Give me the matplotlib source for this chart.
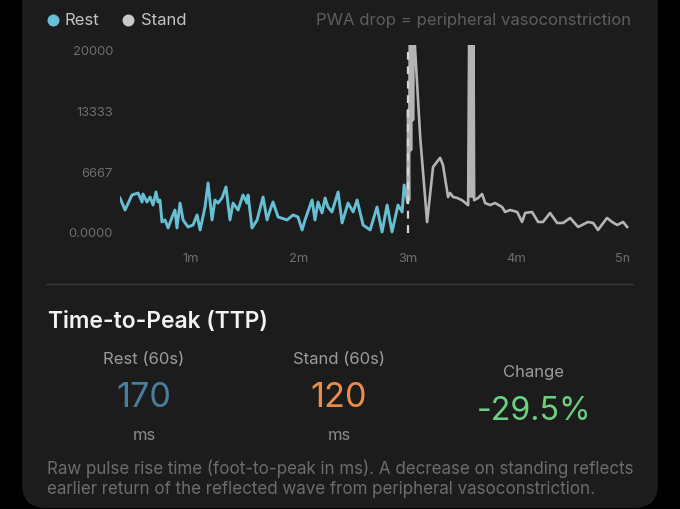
import matplotlib
matplotlib.use("Agg")
import matplotlib.pyplot as plt
from matplotlib.patches import FancyBboxPatch
from matplotlib.transforms import Bbox

plt.rcParams['font.family'] = ['Inter', 'DejaVu Sans']

# ---------------- data ----------------
rest_t = [21.0, 23.8, 27.6, 31.0, 33.2, 33.7, 35.9, 37.6, 39.3, 40.9, 42.0, 43.1, 44.2, 45.9,
          47.6, 49.8, 51.4, 52.5, 54.2, 55.9, 58.6, 61.4, 63.6, 65.3, 68.0, 69.7, 71.9, 73.5,
          75.2, 77.4, 79.6, 81.8, 83.5, 86.3, 89.0, 91.2, 91.8, 94.0, 96.8, 100.1, 102.3,
          104.0, 105.6, 108.4, 113.4, 116.7, 119.4, 121.7, 123.3, 127.2, 128.8, 130.5, 132.7,
          134.4, 136.0, 138.2, 141.6, 143.8, 147.1, 149.9, 152.1, 155.4, 159.3, 163.1, 165.9,
          168.7, 171.4, 174.7, 177.0, 178.1, 180.0]
rest_v = [3840, 2520, 4170, 4390, 3400, 4280, 3400, 3950, 3070, 4500, 3400, 3620, 1210, 1430,
          550, 1760, 2520, 550, 3290, 1430, 660, 880, 1980, 330, 2850, 5490, 1430, 3620,
          3290, 3840, 5050, 1430, 3290, 2520, 4170, 3290, 4170, 550, 1430, 3950, 1430,
          2520, 3400, 1760, 1430, 1980, 1760, 330, 1430, 3620, 1430, 3400, 2200,
          3840, 2850, 2310, 4500, 1100, 3290, 2310, 3620, 880, 330, 2850, 110,
          3070, 110, 3070, 2310, 5270, 3400]

stand_t = [180.0, 180.3, 180.8, 181.4, 181.9, 182.5, 183.0, 183.6, 184.1, 187.0, 190.8, 194.1,
           198.0, 199.6, 202.4, 203.5, 205.2, 207.4, 210.1, 213.5, 214.3, 214.8, 215.3, 215.8,
           216.3, 216.8, 219.0, 221.2, 222.9, 225.6, 228.4, 232.3, 233.9, 236.7, 240.6, 243.3,
           245.0, 248.8, 252.2, 254.9, 258.8, 262.7, 266.0, 269.9, 274.3, 279.8, 282.6, 285.3,
           290.3, 293.1, 295.9, 299.2, 301.4]
stand_v = [3400, 13500, 3600, 30000, 9100, 30000, 12400, 30000, 20400, 10500, 1200, 7250,
           8250, 7450, 3950, 4400, 3950, 3850, 3600, 3050, 30000, 4000, 30000, 4000,
           30000, 3600, 3840, 4280, 3290, 3070, 3290, 2850, 2310, 2520, 2310, 1210,
           2200, 2310, 1210, 1210, 2200, 1100, 1100, 1650, 660, 1210, 1100, 330,
           1650, 1210, 880, 1210, 660]

transition_s = 180
series_names = ['Rest', 'Stand']
y_ticks = [0, 6667, 13333, 20000]
y_tick_labels = ['0.0000', '6667', '13333', '20000']
x_ticks = [60, 120, 180, 240, 300]
x_tick_labels = ['1m', '2m', '3m', '4m', '5m']

metric_title = 'Time-to-Peak (TTP)'
rest_label, stand_label, change_label = 'Rest (60s)', 'Stand (60s)', 'Change'
ttp_rest_ms = 170
ttp_stand_ms = 120
ttp_change_pct = -29.5
unit = 'ms'
header_note = 'PWA drop = peripheral vasoconstriction'
footnote_lines = ['Raw pulse rise time (foot-to-peak in ms). A decrease on standing reflects',
                  'earlier return of the reflected wave from peripheral vasoconstriction.']

# ---------------- style ----------------
REST_C = '#67bfd3'
STAND_C = '#b4b4b4'
CARD_C = '#1c1c1c'
W, H = 680, 509

fig = plt.figure(figsize=(W / 100, H / 100), dpi=100, facecolor='black')

bg = fig.add_axes([0, 0, 1, 1])
bg.set_xlim(0, W)
bg.set_ylim(H, 0)
bg.axis('off')
bg.set_zorder(0)
bg.add_patch(FancyBboxPatch((22, -60), 636, 568,
                            boxstyle='round,pad=0,rounding_size=24',
                            fc=CARD_C, ec='none'))

# legend
bg.plot([53], [20], 'o', ms=8.6, color=REST_C, mec='none')
bg.text(65, 20, series_names[0], color='#c4c4c4', fontsize=12, va='center', ha='left')
bg.plot([128], [20], 'o', ms=8.6, color='#c8c8c8', mec='none')
bg.text(141, 20, series_names[1], color='#c4c4c4', fontsize=12, va='center', ha='left')
hdr = bg.text(631, 20, header_note, color='#5e5e5e', fontsize=12, va='center', ha='right')

# chart axes
ax = fig.add_axes([120 / W, (H - 242) / H, 512 / W, 197 / H])
ax.set_zorder(2)
ax.patch.set_alpha(0)
for s in ax.spines.values():
    s.set_visible(False)
ax.set_xlim(21.0, 304.1)
ax.set_ylim(-990, 20640)

ax.plot(rest_t, rest_v, color=REST_C, lw=2.1, solid_joinstyle='round', zorder=3)
ax.plot(stand_t, stand_v, color=STAND_C, lw=1.9, solid_joinstyle='round', zorder=3)
ax.vlines(transition_s, y_ticks[0], y_ticks[-1], colors='#d6d6d6', lw=1.6,
          linestyles=(0, (3.5, 3)), zorder=4)

ax.set_yticks(y_ticks, y_tick_labels)
ax.set_xticks(x_ticks, x_tick_labels)
ax.tick_params(axis='both', length=0, colors='#6e6e6e', labelsize=9.3)
ax.tick_params(axis='y', pad=5)
ax.tick_params(axis='x', pad=8)

# clip x tick labels at the right edge of the chart area
clipbox = Bbox([[0, 0], [629, H]])
for lbl in ax.get_xticklabels():
    lbl.set_clip_on(True)
    lbl.set_clip_box(clipbox)

# separator
bg.plot([46, 633], [284, 284], color='#3a3a3a', lw=1)

# metrics panel
ttl = bg.text(48, 322, metric_title, color='#f2f2f2', fontsize=15.5, fontweight='semibold',
              va='center', ha='left')
bg.text(144, 360, rest_label, color='#9c9c9c', fontsize=12, va='center', ha='center')
n1 = bg.text(144, 398, f'{ttp_rest_ms}', color='#4a7e9e', fontsize=25, fontweight='normal',
             va='center', ha='center')
bg.text(144, 435, unit, color='#8a8a8a', fontsize=12, va='center', ha='center')

bg.text(339, 360, stand_label, color='#9c9c9c', fontsize=12, va='center', ha='center')
n2 = bg.text(339, 398, f'{ttp_stand_ms}', color='#ec8c4c', fontsize=25, fontweight='normal',
             va='center', ha='center')
bg.text(339, 435, unit, color='#8a8a8a', fontsize=12, va='center', ha='center')

bg.text(534, 373, change_label, color='#9c9c9c', fontsize=12, va='center', ha='center')
n3 = bg.text(534, 412, f'{ttp_change_pct:.1f}%', color='#6cd07f', fontsize=26,
             fontweight='normal', va='center', ha='center')

fn1 = bg.text(47, 469, footnote_lines[0], color='#6c6c6c', fontsize=11, va='center', ha='left')
fn2 = bg.text(47, 489, footnote_lines[1], color='#6c6c6c', fontsize=11, va='center', ha='left')

# fit some text widths to the reference layout
fig.canvas.draw()
r = fig.canvas.get_renderer()
for t, target in [(hdr, 315), (fn1, 584), (ttl, 220), (n1, 55), (n3, 115)]:
    w = t.get_window_extent(r).width
    t.set_fontsize(t.get_fontsize() * target / w)
fn2.set_fontsize(fn1.get_fontsize())
n2.set_fontsize(n1.get_fontsize())

fig.savefig('out.png', dpi=100, facecolor='black')
